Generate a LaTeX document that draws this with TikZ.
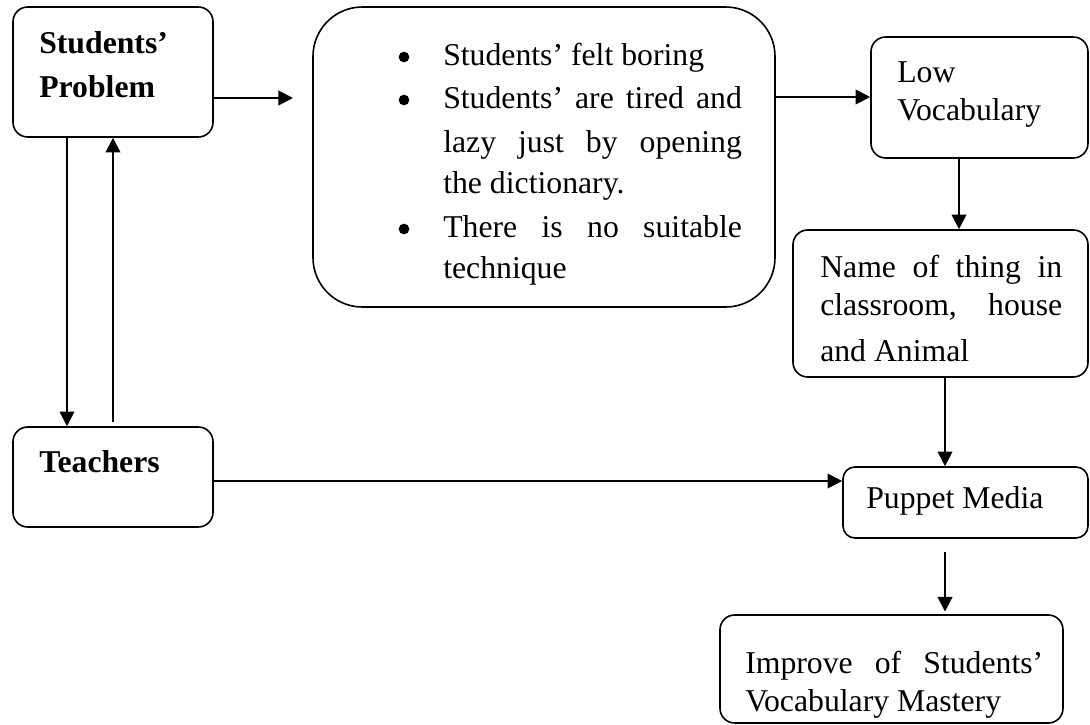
\documentclass[tikz,border=0pt]{standalone}
\usepackage{fontspec}
\setmainfont{Liberation Serif}
\usetikzlibrary{arrows.meta,fit}
\begin{document}
\begin{tikzpicture}[x=0.75pt,y=-0.75pt,
  box/.style={draw, line width=1.2pt, rounded corners=11pt, inner sep=0pt},
  txt/.style={inner sep=0pt, anchor=base west, font=\fontsize{23.8pt}{32pt}\selectfont},
  bul/.style={circle, fill, inner sep=0pt, minimum size=8pt},
  arr/.style={line width=1.5pt, -{Triangle[length=11pt,width=11pt]}}]
\useasboundingbox (0,0) rectangle (1090,725);
% boxes
\node[box, fit={(13,7) (213,137)}] (sp) {};
\node[box, rounded corners=37pt, fit={(313,7) (775,307)}] (big) {};
\node[box, fit={(871,37) (1088,158)}] (lv) {};
\node[box, fit={(793,230) (1088,377)}] (name) {};
\node[box, fit={(13,427) (213,527)}] (tch) {};
\node[box, rounded corners=9pt, fit={(843,467) (1088,538)}] (pm) {};
\node[box, fit={(720,615) (1063,723)}] (imp) {};
% texts
\node[txt] (t1) at (39,53) {\bfseries Students’};
\node[txt] (t2) at (39,97) {\bfseries Problem};
\node[bul] (b1) at (404,57) {};
\node[txt] (t3) at (443,65) {Students’ felt boring};
\node[bul] (b2) at (404,100) {};
\node[txt] (t4) at (443,108) {\makebox[224pt][s]{Students’ are tired and}};
\node[txt] (t5) at (443,152) {\makebox[224pt][s]{lazy just by opening}};
\node[txt] (t6) at (443,193) {the dictionary.};
\node[bul] (b3) at (404,229) {};
\node[txt] (t7) at (443,237) {\makebox[224pt][s]{There is no suitable}};
\node[txt] (t8) at (443,278) {technique};
\node[txt] (t9) at (897,82) {Low};
\node[txt] (t10) at (897,120) {Vocabulary};
\node[txt] (t11) at (820,277) {\makebox[181.5pt][s]{Name of thing in}};
\node[txt] (t12) at (820,315) {\makebox[181.5pt][s]{classroom, house}};
\node[txt] (t13) at (820,361) {and Animal};
\node[txt] (t14) at (39,472) {\bfseries Teachers};
\node[txt] (t15) at (866,508) {Puppet Media};
\node[txt] (t16) at (745,673) {\makebox[223.5pt][s]{Improve of Students’}};
\node[txt] (t17) at (745,711) {Vocabulary Mastery};
% helper coordinates
\coordinate (c1) at (293,98);
\coordinate (ya) at (0,97);
\coordinate (xa) at (959,0);
\coordinate (xb) at (945,0);
\coordinate (yb) at (0,481);
\coordinate (p1) at (945,552);
\coordinate (xl) at (67,0);
\coordinate (u1) at (113,422);
% connectors
\draw[arr] (sp.east |- c1) -- (c1);
\draw[arr] (big.east |- ya) -- (lv.west |- ya);
\draw[arr] (lv.south -| xa) -- (name.north -| xa);
\draw[arr] (name.south -| xb) -- (pm.north -| xb);
\draw[arr] (tch.east |- yb) -- (pm.west |- yb);
\draw[arr, shorten >=2pt] (p1) -- (imp.north -| p1);
\draw[arr] (sp.south -| xl) -- (tch.north -| xl);
\draw[arr] (u1) -- (sp.south -| u1);
\end{tikzpicture}
\end{document}
